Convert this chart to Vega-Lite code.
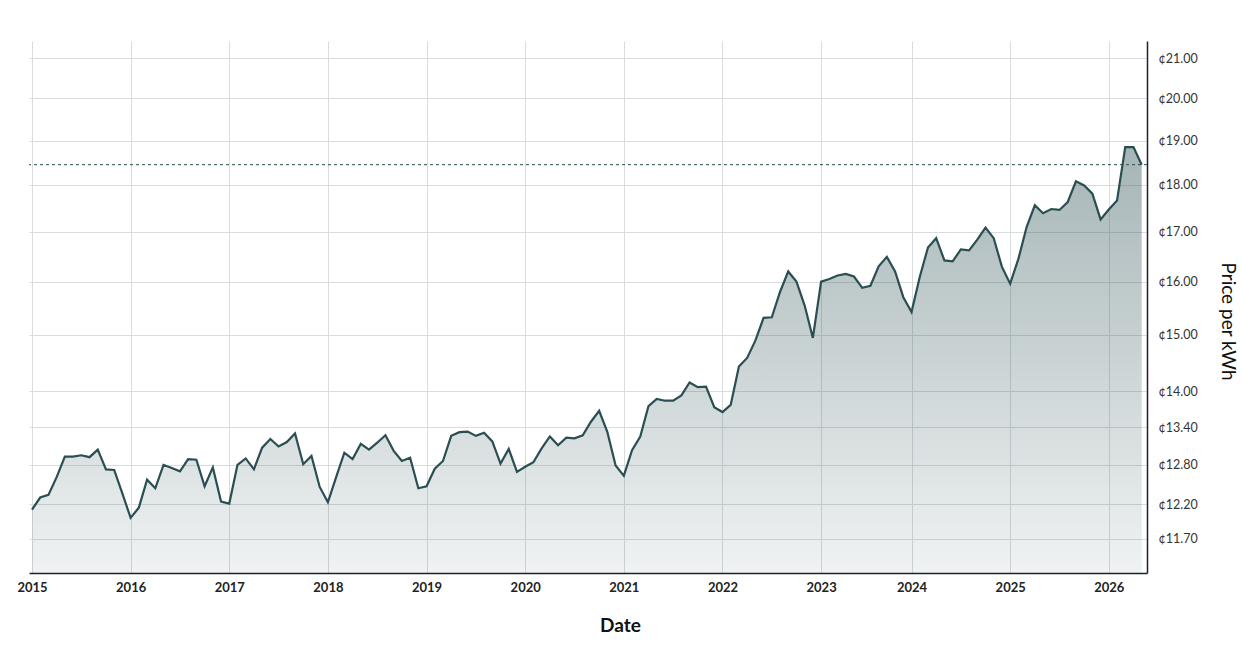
{
  "$schema": "https://vega.github.io/schema/vega-lite/v6.json",
  "width": 1118,
  "height": 532,
  "autosize": "none",
  "padding": {"left": 29, "top": 41, "right": 95, "bottom": 92},
  "background": "white",
  "config": {
    "font": "Lato",
    "view": {"stroke": null},
    "axis": {
      "gridColor": "#d8dcde",
      "gridWidth": 1,
      "domainColor": "#1f1f33",
      "domainWidth": 1.5,
      "ticks": false
    }
  },
  "datasets": {
    "prices": [
      {"month": "2015-01", "price": 12.12}, {"month": "2015-02", "price": 12.30}, {"month": "2015-03", "price": 12.34},
      {"month": "2015-04", "price": 12.61}, {"month": "2015-05", "price": 12.93}, {"month": "2015-06", "price": 12.93},
      {"month": "2015-07", "price": 12.95}, {"month": "2015-08", "price": 12.92}, {"month": "2015-09", "price": 13.04},
      {"month": "2015-10", "price": 12.73}, {"month": "2015-11", "price": 12.72}, {"month": "2015-12", "price": 12.36},
      {"month": "2016-01", "price": 12.00}, {"month": "2016-02", "price": 12.15}, {"month": "2016-03", "price": 12.57},
      {"month": "2016-04", "price": 12.44}, {"month": "2016-05", "price": 12.80}, {"month": "2016-06", "price": 12.75},
      {"month": "2016-07", "price": 12.70}, {"month": "2016-08", "price": 12.89}, {"month": "2016-09", "price": 12.88},
      {"month": "2016-10", "price": 12.47}, {"month": "2016-11", "price": 12.76}, {"month": "2016-12", "price": 12.24},
      {"month": "2017-01", "price": 12.21}, {"month": "2017-02", "price": 12.80}, {"month": "2017-03", "price": 12.90},
      {"month": "2017-04", "price": 12.73}, {"month": "2017-05", "price": 13.07}, {"month": "2017-06", "price": 13.21},
      {"month": "2017-07", "price": 13.09}, {"month": "2017-08", "price": 13.16}, {"month": "2017-09", "price": 13.30},
      {"month": "2017-10", "price": 12.81}, {"month": "2017-11", "price": 12.94}, {"month": "2017-12", "price": 12.46},
      {"month": "2018-01", "price": 12.23}, {"month": "2018-02", "price": 12.61}, {"month": "2018-03", "price": 12.99},
      {"month": "2018-04", "price": 12.89}, {"month": "2018-05", "price": 13.13}, {"month": "2018-06", "price": 13.04},
      {"month": "2018-07", "price": 13.15}, {"month": "2018-08", "price": 13.27}, {"month": "2018-09", "price": 13.02},
      {"month": "2018-10", "price": 12.86}, {"month": "2018-11", "price": 12.91}, {"month": "2018-12", "price": 12.44},
      {"month": "2019-01", "price": 12.47}, {"month": "2019-02", "price": 12.74}, {"month": "2019-03", "price": 12.86},
      {"month": "2019-04", "price": 13.26}, {"month": "2019-05", "price": 13.32}, {"month": "2019-06", "price": 13.33},
      {"month": "2019-07", "price": 13.26}, {"month": "2019-08", "price": 13.31}, {"month": "2019-09", "price": 13.17},
      {"month": "2019-10", "price": 12.82}, {"month": "2019-11", "price": 13.05}, {"month": "2019-12", "price": 12.69},
      {"month": "2020-01", "price": 12.77}, {"month": "2020-02", "price": 12.84}, {"month": "2020-03", "price": 13.06},
      {"month": "2020-04", "price": 13.25}, {"month": "2020-05", "price": 13.11}, {"month": "2020-06", "price": 13.23},
      {"month": "2020-07", "price": 13.22}, {"month": "2020-08", "price": 13.27}, {"month": "2020-09", "price": 13.49},
      {"month": "2020-10", "price": 13.67}, {"month": "2020-11", "price": 13.32}, {"month": "2020-12", "price": 12.79},
      {"month": "2021-01", "price": 12.63}, {"month": "2021-02", "price": 13.03}, {"month": "2021-03", "price": 13.25},
      {"month": "2021-04", "price": 13.75}, {"month": "2021-05", "price": 13.87}, {"month": "2021-06", "price": 13.84},
      {"month": "2021-07", "price": 13.84}, {"month": "2021-08", "price": 13.93}, {"month": "2021-09", "price": 14.15},
      {"month": "2021-10", "price": 14.07}, {"month": "2021-11", "price": 14.08}, {"month": "2021-12", "price": 13.73},
      {"month": "2022-01", "price": 13.65}, {"month": "2022-02", "price": 13.77}, {"month": "2022-03", "price": 14.43},
      {"month": "2022-04", "price": 14.58}, {"month": "2022-05", "price": 14.89}, {"month": "2022-06", "price": 15.31},
      {"month": "2022-07", "price": 15.32}, {"month": "2022-08", "price": 15.80}, {"month": "2022-09", "price": 16.20},
      {"month": "2022-10", "price": 16.00}, {"month": "2022-11", "price": 15.54}, {"month": "2022-12", "price": 14.94},
      {"month": "2023-01", "price": 16.00}, {"month": "2023-02", "price": 16.05}, {"month": "2023-03", "price": 16.12},
      {"month": "2023-04", "price": 16.15}, {"month": "2023-05", "price": 16.10}, {"month": "2023-06", "price": 15.88},
      {"month": "2023-07", "price": 15.92}, {"month": "2023-08", "price": 16.30}, {"month": "2023-09", "price": 16.49},
      {"month": "2023-10", "price": 16.20}, {"month": "2023-11", "price": 15.70},
      {"month": "2024-01", "price": 15.42}, {"month": "2024-02", "price": 16.09}, {"month": "2024-03", "price": 16.68},
      {"month": "2024-04", "price": 16.87}, {"month": "2024-05", "price": 16.42}, {"month": "2024-06", "price": 16.40},
      {"month": "2024-07", "price": 16.64}, {"month": "2024-08", "price": 16.62}, {"month": "2024-09", "price": 16.84},
      {"month": "2024-10", "price": 17.09}, {"month": "2024-11", "price": 16.87}, {"month": "2024-12", "price": 16.29},
      {"month": "2025-01", "price": 15.96}, {"month": "2025-02", "price": 16.45}, {"month": "2025-03", "price": 17.10},
      {"month": "2025-04", "price": 17.56}, {"month": "2025-05", "price": 17.39}, {"month": "2025-06", "price": 17.48},
      {"month": "2025-07", "price": 17.46}, {"month": "2025-08", "price": 17.63}, {"month": "2025-09", "price": 18.08},
      {"month": "2025-10", "price": 17.99}, {"month": "2025-11", "price": 17.81}, {"month": "2025-12", "price": 17.26},
      {"month": "2026-01", "price": 17.47}, {"month": "2026-02", "price": 17.66}, {"month": "2026-03", "price": 18.85},
      {"month": "2026-04", "price": 18.85}, {"month": "2026-05", "price": 18.45}
    ],
    "current": [{"price": 18.45}]
  },
  "layer": [
    {
      "data": {"name": "prices"},
      "mark": {
        "type": "area",
        "line": {"color": "#2a4e52", "strokeWidth": 2.2},
        "fill": {
          "gradient": "linear",
          "x1": 0, "y1": 1, "x2": 0, "y2": 0,
          "stops": [
            {"offset": 0, "color": "rgba(42,78,82,0.1)"},
            {"offset": 1, "color": "rgba(42,78,82,0.6)"}
          ]
        }
      },
      "encoding": {
        "x": {
          "field": "month",
          "type": "ordinal",
          "scale": {"type": "point", "padding": 0.505, "align": 0.36},
          "axis": {
            "values": ["2015-01", "2016-01", "2017-01", "2018-01", "2019-01", "2020-01", "2021-01", "2022-01", "2023-01", "2024-01", "2025-01", "2026-01"],
            "labelExpr": "substring(datum.label, 0, 4)",
            "labelAngle": 0,
            "labelFontSize": 13,
            "labelFontWeight": "bold",
            "labelColor": "#222222",
            "labelPadding": 8,
            "title": "Date",
            "titleFontSize": 19,
            "titleFontWeight": "bold",
            "titleColor": "#111111",
            "titleX": 591,
            "titleY": 52,
            "titleBaseline": "middle",
            "grid": true
          }
        },
        "y": {
          "field": "price",
          "type": "quantitative",
          "scale": {"type": "log", "domain": [11.22, 21.45], "nice": false},
          "axis": {
            "orient": "right",
            "values": [11.7, 12.2, 12.8, 13.4, 14, 15, 16, 17, 18, 19, 20, 21],
            "labelExpr": "'¢' + format(datum.value, '.2f')",
            "labelFontSize": 12.5,
            "labelColor": "#333333",
            "labelPadding": 11,
            "title": "Price per kWh",
            "titleFontSize": 19,
            "titleFontWeight": "normal",
            "titleColor": "#111111",
            "titleAngle": 90,
            "titleX": 80,
            "titleY": 280,
            "titleBaseline": "middle",
            "grid": true
          }
        },
        "y2": {"datum": 11.22}
      }
    },
    {
      "data": {"name": "current"},
      "mark": {"type": "rule", "color": "#2a4e52", "strokeWidth": 1, "strokeDash": [3, 3]},
      "encoding": {
        "y": {"field": "price", "type": "quantitative"}
      }
    }
  ]
}
